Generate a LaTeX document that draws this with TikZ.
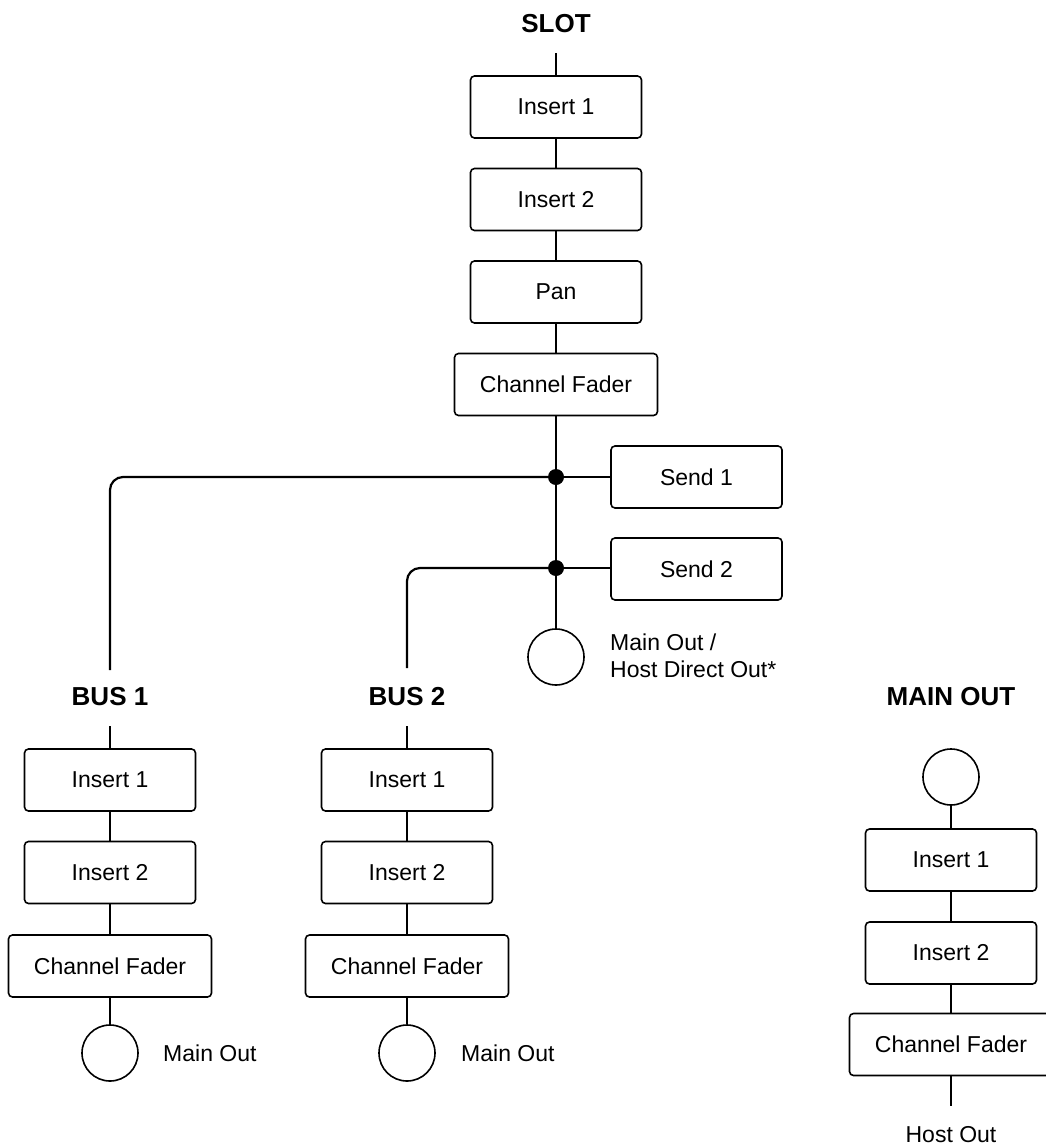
\documentclass[tikz,border=0pt]{standalone}
\usepackage{fontspec}
\setmainfont{Liberation Sans}
\usetikzlibrary{positioning}

\begin{document}
\begin{tikzpicture}[x=1pt,y=-1pt,
	blk/.style={draw,line width=1.6pt,rounded corners=4pt,minimum width=171pt,minimum height=62pt,font=\fontsize{23}{27}\selectfont},
	fader/.style={blk,minimum width=203pt},
	outc/.style={draw,circle,line width=1.6pt,minimum size=56pt,inner sep=0pt},
	jdot/.style={circle,fill,minimum size=16pt,inner sep=0pt},
	head/.style={font=\fontsize{26}{30}\selectfont\bfseries,inner sep=0pt},
	lbl/.style={font=\fontsize{23}{27}\selectfont,inner sep=0pt},
	wire/.style={line width=2.2pt}]
	\useasboundingbox (0,0) rectangle (1045,1146);

	% slot
	\node[head] (slot) at (556,24) {SLOT};
	\coordinate (slotin) at (556,53);
	\node[blk] (sins1) at (556,107) {Insert 1};
	\node[blk] (sins2) at (556,199.5) {Insert 2};
	\node[blk] (span) at (556,292) {Pan};
	\node[fader] (sfad) at (556,384.5) {Channel Fader};
	\node[jdot] (d1) at (556,477) {};
	\node[jdot] (d2) at (556,568) {};
	\node[blk] (send1) at (696.5,477) {Send 1};
	\node[blk] (send2) at (696.5,569) {Send 2};
	\node[outc] (smo) at (556,657) {};
	\node[lbl,align=left,anchor=west] (smotxt) at (610,656) {Main Out /\\Host Direct Out*};

	\draw[wire] (slotin) -- (sins1) -- (sins2) -- (span) -- (sfad) -- (d1) -- (d2) -- (smo);
	\draw[wire] (d1) -- (d1 -| send1.west);
	\draw[wire] (d2) -- (d2 -| send2.west);

	% sends to buses
	\coordinate (b1end) at (110,670);
	\coordinate (b2end) at (407,668);
	\draw[wire,rounded corners=13pt] (d1) -- (d1 -| b1end) -- (b1end);
	\draw[wire,rounded corners=13pt] (d2) -- (d2 -| b2end) -- (b2end);

	% bus 1
	\node[head] (bus1) at (110,697) {BUS 1};
	\coordinate (b1in) at (110,726);
	\node[blk] (b1ins1) at (110,780) {Insert 1};
	\node[blk] (b1ins2) at (110,872.5) {Insert 2};
	\node[fader] (b1fad) at (110,966) {Channel Fader};
	\node[outc] (b1mo) at (110,1053) {};
	\node[lbl,anchor=west] (b1motxt) at (163,1053) {Main Out};
	\draw[wire] (b1in) -- (b1ins1) -- (b1ins2) -- (b1fad) -- (b1mo);

	% bus 2
	\node[head] (bus2) at (407,697) {BUS 2};
	\coordinate (b2in) at (407,726);
	\node[blk] (b2ins1) at (407,780) {Insert 1};
	\node[blk] (b2ins2) at (407,872.5) {Insert 2};
	\node[fader] (b2fad) at (407,966) {Channel Fader};
	\node[outc] (b2mo) at (407,1053) {};
	\node[lbl,anchor=west] (b2motxt) at (461,1053) {Main Out};
	\draw[wire] (b2in) -- (b2ins1) -- (b2ins2) -- (b2fad) -- (b2mo);

	% main out
	\node[head] (mainout) at (951,697) {MAIN OUT};
	\node[outc] (mmo) at (951,777) {};
	\node[blk] (mins1) at (951,860) {Insert 1};
	\node[blk] (mins2) at (951,953) {Insert 2};
	\node[fader] (mfad) at (951,1044.5) {Channel Fader};
	\coordinate (mend) at (951,1106);
	\node[lbl] (hostout) at (951,1135) {Host Out};
	\draw[wire] (mmo) -- (mins1) -- (mins2) -- (mfad) -- (mend);
\end{tikzpicture}
\end{document}
